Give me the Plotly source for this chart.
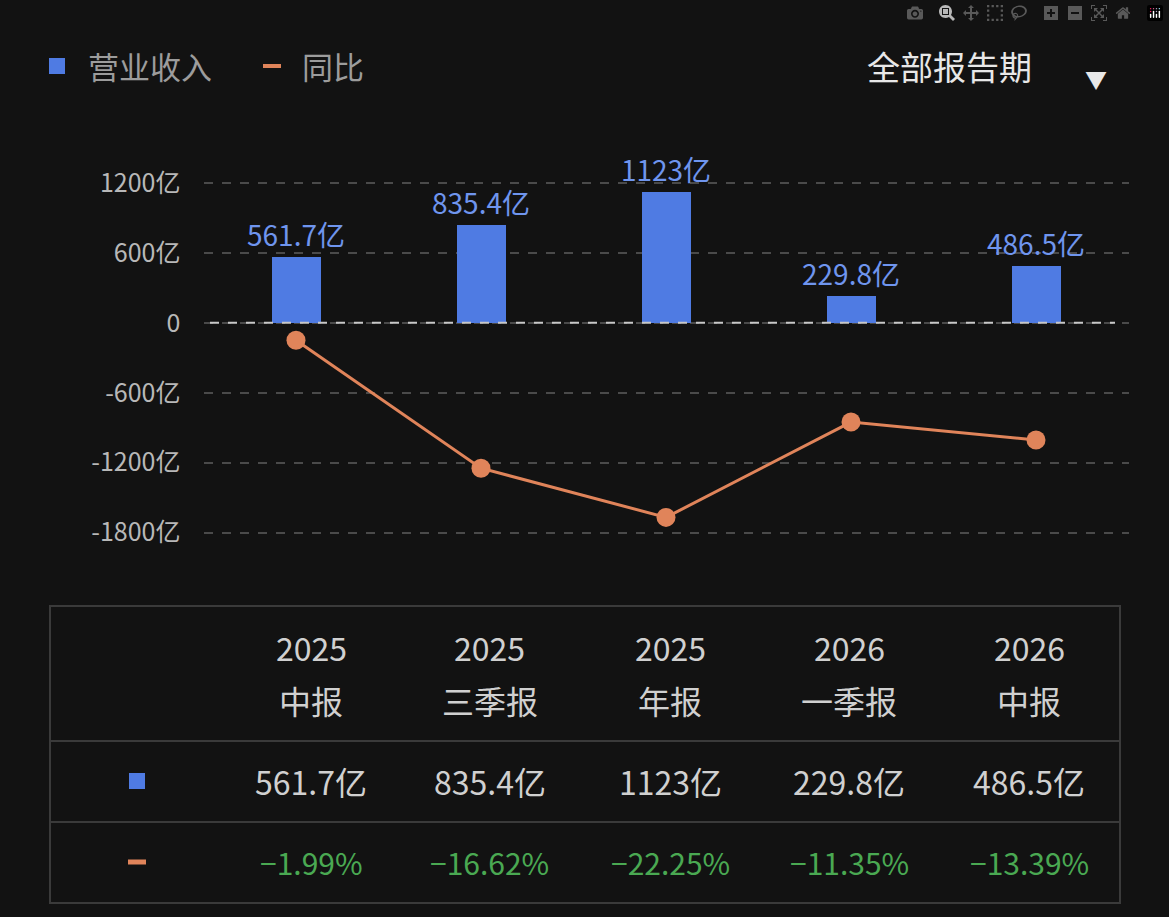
import plotly.graph_objects as go

years = ["2025", "2025", "2025", "2026", "2026"]
periods = ["中报", "三季报", "年报", "一季报", "中报"]
revenue = [561.7, 835.4, 1123, 229.8, 486.5]
revenue_labels = ["561.7亿", "835.4亿", "1123亿", "229.8亿", "486.5亿"]
yoy = [-1.99, -16.62, -22.25, -11.35, -13.39]
yoy_labels = ["−1.99%", "−16.62%", "−22.25%", "−11.35%", "−13.39%"]
y_ticks = [1200, 600, 0, -600, -1200, -1800]
y_ticklabels = ["1200亿", "600亿", "0", "-600亿", "-1200亿", "-1800亿"]

W, H = 1169, 917
BG = "#121212"
BLUE = "#4f7be3"
BLUE_T = "#6f95ee"
ORANGE = "#e0845a"
GREEN = "#4aa952"
FONT = "Noto Sans CJK SC"

def px(x): return x / W
def py(y): return 1 - y / H

x = list(range(5))
fig = go.Figure()
fig.add_trace(go.Bar(x=x, y=revenue, width=0.26, marker_color=BLUE, marker_line_width=0,
                     text=revenue_labels, textposition="outside", cliponaxis=False,
                     constraintext="none",
                     textfont=dict(color=BLUE_T, size=28, family=FONT), yaxis="y"))
fig.add_trace(go.Scatter(x=x, y=yoy, mode="lines+markers", yaxis="y2",
                         line=dict(color=ORANGE, width=3),
                         marker=dict(color=ORANGE, size=19)))

ymin, ymax = -2000, 1500
k = 75.0
top_px, bot_px = 148, 556
fig.update_layout(
    width=W, height=H, paper_bgcolor=BG, plot_bgcolor=BG,
    margin=dict(l=0, r=0, t=0, b=0), showlegend=False, bargap=0,
    font=dict(family=FONT, color="#c8c8c8"),
    xaxis=dict(domain=[px(203.5), px(1128.5)], range=[-0.5, 4.5], visible=False),
    yaxis=dict(domain=[py(bot_px), py(top_px)], range=[ymin, ymax],
               tickvals=y_ticks, ticktext=y_ticklabels, showgrid=True,
               gridcolor="#4a4a4a", griddash="dash", gridwidth=2, zeroline=False,
               tickfont=dict(size=25, color="#b8b8b8", family=FONT), ticklabelstandoff=22),
    yaxis2=dict(overlaying="y", range=[ymin / k, ymax / k], visible=False),
)
fig.add_shape(type="line", xref="paper", yref="y", x0=px(210), x1=px(1115), y0=0, y1=0,
              line=dict(color="#c8c8c8", width=2, dash="dash"), layer="above")

ann = []
def t(xp, yp, s, size, color, xanchor="center"):
    ann.append(dict(x=px(xp), y=py(yp), xref="paper", yref="paper", text=s, showarrow=False,
                    xanchor=xanchor, yanchor="middle", font=dict(size=size, color=color, family=FONT)))

fig.add_shape(type="rect", xref="paper", yref="paper", x0=px(49), x1=px(65), y0=py(58), y1=py(74),
              fillcolor=BLUE, line_width=0)
t(86, 66, "营业收入", 31, "#9c9c9c", "left")
fig.add_shape(type="line", xref="paper", yref="paper", x0=px(263), x1=px(281), y0=py(66), y1=py(66),
              line=dict(color=ORANGE, width=4))
t(300, 66, "同比", 31, "#9c9c9c", "left")
t(865, 66, "全部报告期", 33, "#e8e8e8", "left")
ann.append(dict(x=px(1109), y=py(60), xref="paper", yref="paper", text="▼", showarrow=False,
                font=dict(size=22, color="#e8e8e8")))

fig.add_shape(type="rect", xref="paper", yref="paper", x0=px(50), x1=px(1120), y0=py(606), y1=py(903),
              line=dict(color="#3a3a3a", width=2))
for yy in (741, 822):
    fig.add_shape(type="line", xref="paper", yref="paper", x0=px(50), x1=px(1120), y0=py(yy), y1=py(yy),
                  line=dict(color="#3a3a3a", width=2))
cols = [311, 490, 670, 849, 1029]
for i, cx in enumerate(cols):
    t(cx, 647, years[i], 32, "#d0d0d0")
    t(cx, 700, periods[i], 32, "#d0d0d0")
    t(cx, 781, revenue_labels[i], 32, "#d0d0d0")
    t(cx, 862, yoy_labels[i], 30, GREEN)
fig.add_shape(type="rect", xref="paper", yref="paper", x0=px(129), x1=px(145), y0=py(773), y1=py(789),
              fillcolor=BLUE, line_width=0)
fig.add_shape(type="line", xref="paper", yref="paper", x0=px(128), x1=px(146), y0=py(862), y1=py(862),
              line=dict(color=ORANGE, width=5))
fig.update_layout(annotations=ann)
fig.write_html("out.html")

with open("out.html", encoding="utf-8") as f:
    html = f.read()
html = html.replace("<body>", '<body style="margin:0;background:#121212;overflow:hidden">', 1)
with open("out.html", "w", encoding="utf-8") as f:
    f.write(html)
